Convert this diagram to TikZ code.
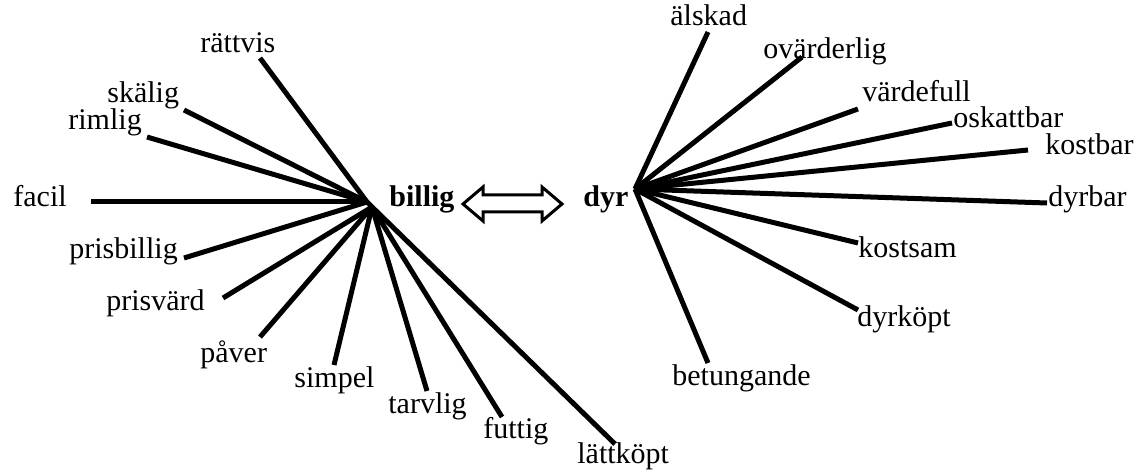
\documentclass[tikz,border=0pt]{standalone}
\usepackage{fontspec}
\setmainfont{Liberation Serif}
\begin{document}
\begin{tikzpicture}[x=0.5pt,y=-0.5pt,
  lbl/.style={anchor=base west,inner sep=0pt,font=\fontsize{15}{18}\selectfont},
  headword/.style={lbl,font=\fontsize{15}{18}\selectfont\bfseries},
  ray/.style={line width=2.5pt,line cap=butt},
  dblarrow/.style={line width=1.5pt,fill=white,line join=miter}]
\useasboundingbox (0,0) rectangle (1135,470);
% hubs
\coordinate (hb) at (367,202);
\coordinate (hbl) at (372,207);
\coordinate (hd) at (635,189);
% headwords
\node[headword] (billig) at (389,207) {billig};
\node[headword] (dyr) at (583,207) {dyr};
% left labels
\node[lbl] (rattvis) at (200,53) {rättvis};
\node[lbl] (skalig) at (107,103) {skälig};
\node[lbl] (rimlig) at (68,130) {rimlig};
\node[lbl] (facil) at (13,207) {facil};
\node[lbl] (prisbillig) at (69,259) {prisbillig};
\node[lbl] (prisvard) at (106,310) {prisvärd};
\node[lbl] (paver) at (200,362) {påver};
\node[lbl] (simpel) at (294,387) {simpel};
\node[lbl] (tarvlig) at (388,413) {tarvlig};
\node[lbl] (futtig) at (483,438) {futtig};
\node[lbl] (lattkopt) at (577,463) {lättköpt};
% right labels
\node[lbl] (alskad) at (670,26) {älskad};
\node[lbl] (ovarderlig) at (763,59) {ovärderlig};
\node[lbl] (vardefull) at (862,102) {värdefull};
\node[lbl] (oskattbar) at (953,128) {oskattbar};
\node[lbl] (kostbar) at (1045,155) {kostbar};
\node[lbl] (dyrbar) at (1048,207) {dyrbar};
\node[lbl] (kostsam) at (858,257) {kostsam};
\node[lbl] (dyrkopt) at (857,327) {dyrköpt};
\node[lbl] (betungande) at (672,385) {betungande};
% line ends, left
\coordinate (eRattvis) at (260,58);
\coordinate (eSkalig) at (184,110);
\coordinate (eRimlig) at (147,137);
\coordinate (eFacil) at (91,202);
\coordinate (ePrisbillig) at (184,258);
\coordinate (ePrisvard) at (223,298);
\coordinate (ePaver) at (260,337);
\coordinate (eSimpel) at (334,365);
\coordinate (eTarvlig) at (427,391);
\coordinate (eFuttig) at (502,417);
\coordinate (eLattkopt) at (615,444);
% line ends, right
\coordinate (eAlskad) at (708,32);
\coordinate (eOvarderlig) at (802,57);
\coordinate (eVardefull) at (858,109);
\coordinate (eOskattbar) at (952,123);
\coordinate (eKostbar) at (1028,150);
\coordinate (eDyrbar) at (1047,203);
\coordinate (eKostsam) at (858,243);
\coordinate (eDyrkopt) at (858,310);
\coordinate (eBetungande) at (708,363);
% rays
\foreach \e in {eRattvis,eSkalig,eRimlig,eFacil,ePrisbillig,eLattkopt}
  \draw[ray] (hb) -- (\e);
\foreach \e in {ePrisvard,ePaver,eSimpel,eTarvlig,eFuttig}
  \draw[ray] (hbl) -- (\e);
\foreach \e in {eAlskad,eOvarderlig,eVardefull,eOskattbar,eKostbar,eDyrbar,eKostsam,eDyrkopt,eBetungande}
  \draw[ray] (hd) -- (\e);
% double arrow
\draw[dblarrow] (463,204) -- (483,187) -- (483,195) -- (542,195) -- (542,187) -- (562,204)
  -- (542,221) -- (542,212) -- (483,212) -- (483,221) -- cycle;
\end{tikzpicture}
\end{document}
